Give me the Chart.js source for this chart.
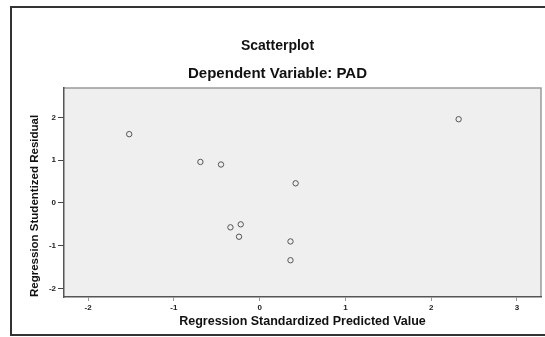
<!DOCTYPE html>
<html>
<head>
<meta charset="utf-8">
<script src="https://cdn.jsdelivr.net/npm/chart.js@4/dist/chart.umd.min.js"></script>
<style>
  body { margin: 0; background: #fff; }
  #wrap { width: 545px; height: 337px; }
</style>
</head>
<body>
<div id="wrap"><canvas id="myChart" width="545" height="337"></canvas></div>
<script>
// values
const predicted = [-1.52, -0.69, -0.45, 0.42, -0.34, -0.22, -0.24, 0.36, 0.36, 2.32];
const residual  = [ 1.61,  0.96,  0.90, 0.46, -0.57, -0.50, -0.79, -0.90, -1.34, 1.96];
const xTicks = [-2, -1, 0, 1, 2, 3];
const yTicks = [-2, -1, 0, 1, 2];

const points = predicted.map((x, i) => ({ x: x, y: residual[i] }));

const fontFam = '"Liberation Sans", Arial, sans-serif';

// white page, outer frame, grey plot area
const framePlugin = {
    id: 'frame',
    beforeDraw(chart) {
        const c = chart.ctx;
        const a = chart.chartArea;
        c.save();
        c.fillStyle = '#fff';
        c.fillRect(0, 0, chart.width, chart.height);
        c.strokeStyle = '#333';
        c.lineWidth = 2;
        c.strokeRect(11, 7, chart.width + 10, 328);
        c.fillStyle = '#efefef';
        c.fillRect(a.left, a.top, a.right - a.left, a.bottom - a.top);
        c.strokeStyle = '#9a9a9a';
        c.lineWidth = 1.5;
        c.beginPath();
        c.moveTo(a.left, a.top);
        c.lineTo(a.right, a.top);
        c.lineTo(a.right, a.bottom);
        c.stroke();
        c.restore();
    }
};

const ctx = document.getElementById('myChart').getContext('2d');

var graphData = {
    type: 'scatter',
    data: {
        datasets: [{
            label: 'PAD',
            data: points,
            pointStyle: 'circle',
            pointRadius: 2.7,
            pointHoverRadius: 2.7,
            borderWidth: 1,
            borderColor: '#555',
            backgroundColor: 'rgba(0,0,0,0)'
        }]
    },
    options: {
        responsive: false,
        animation: false,
        layout: { padding: { left: 14, right: 4, top: 0, bottom: 0 } },
        plugins: {
            legend: { display: false },
            tooltip: { enabled: false },
            title: {
                display: true,
                text: 'Scatterplot',
                color: '#111',
                font: { family: fontFam, size: 14, weight: 'bold', lineHeight: 1.2 },
                padding: { top: 38, bottom: 0 }
            },
            subtitle: {
                display: true,
                text: 'Dependent Variable: PAD',
                color: '#111',
                font: { family: fontFam, size: 15, weight: 'bold', lineHeight: 1.2 },
                padding: { top: 10, bottom: 5.2 }
            }
        },
        scales: {
            x: {
                type: 'linear',
                min: -2.28,
                max: 3.28,
                afterBuildTicks: (axis) => { axis.ticks = xTicks.map(v => ({ value: v })); },
                afterFit: (axis) => {
                    axis.height = 40;
                    axis.paddingLeft = 0; axis.paddingRight = 0;
                },
                grid: { display: true, drawOnChartArea: false, drawTicks: true, tickLength: 4, tickColor: '#999' },
                border: { display: true, color: '#555', width: 1.5 },
                ticks: {
                    color: '#222', padding: 2, maxRotation: 0,
                    font: { family: fontFam, size: 8, weight: 'bold' }
                },
                title: {
                    display: true,
                    text: 'Regression Standardized Predicted Value',
                    color: '#111',
                    font: { family: fontFam, size: 12.5, weight: 'bold', lineHeight: 1.2 },
                    padding: { top: 0, bottom: 8 }
                }
            },
            y: {
                type: 'linear',
                min: -2.2,
                max: 2.69,
                afterBuildTicks: (axis) => { axis.ticks = yTicks.map(v => ({ value: v })); },
                afterFit: (axis) => {
                    axis.width = 50;
                    axis.paddingTop = 0; axis.paddingBottom = 0;
                },
                grid: { display: true, drawOnChartArea: false, drawTicks: true, tickLength: 6, tickColor: '#444' },
                border: { display: true, color: '#555', width: 1.5 },
                ticks: {
                    color: '#222', padding: 2,
                    font: { family: fontFam, size: 8, weight: 'bold' }
                },
                title: {
                    display: true,
                    text: 'Regression Studentized Residual',
                    color: '#111',
                    align: 'start',
                    font: { family: fontFam, size: 11.5, weight: 'bold', lineHeight: 1.2 },
                    padding: { top: 14, bottom: 0 }
                }
            }
        }
    },
    plugins: [framePlugin]
};

const myChart = new Chart(ctx, graphData);
</script>
</body>
</html>
